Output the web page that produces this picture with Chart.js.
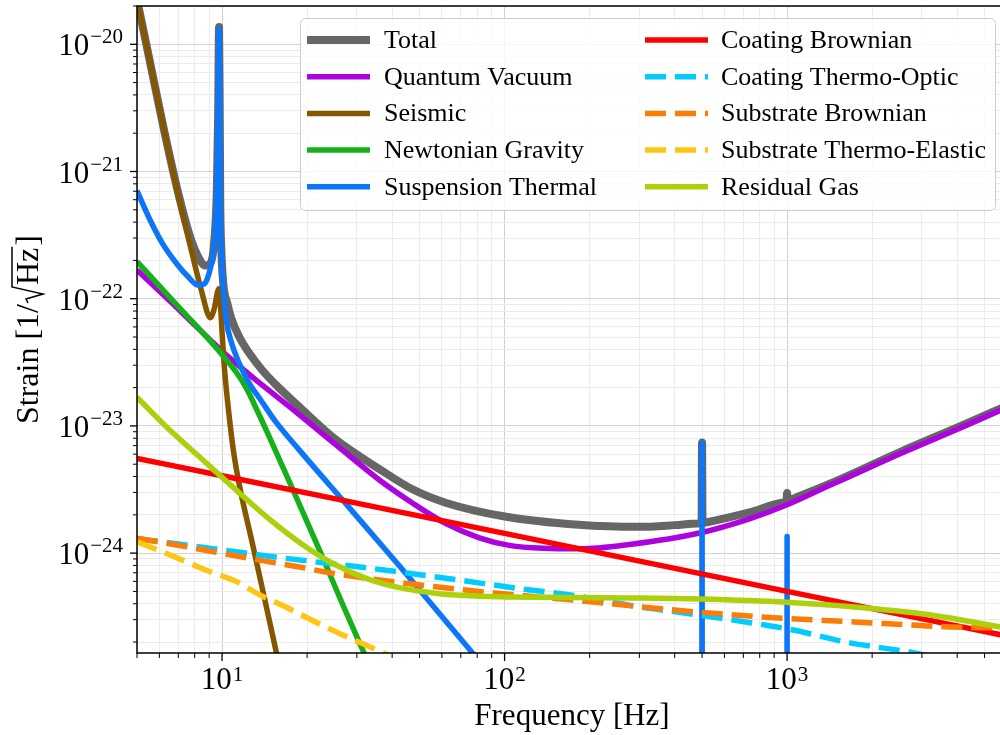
<!DOCTYPE html>
<html>
<head>
<meta charset="utf-8">
<title>Noise budget</title>
<script src="https://cdn.jsdelivr.net/npm/chart.js@4.4.0/dist/chart.umd.min.js"></script>
<style>
  html, body { margin: 0; padding: 0; background: #fff; }
  canvas { display: block; }
</style>
</head>
<body>
<canvas id="noiseChart" width="1000" height="735"></canvas>
<script>
// axis limits
const xMin = 5, xMax = 5670;
const yMin = 1.64e-25, yMax = 2.0e-20;

// tick marks and labels
const xMajorTicks = [10, 100, 1000];
const xTickExponents = ['1', '2', '3'];
const yMajorTicks = [1e-24, 1e-23, 1e-22, 1e-21, 1e-20];
const yTickExponents = ['\u221224', '\u221223', '\u221222', '\u221221', '\u221220'];

// noise curves: frequency [Hz] and strain [1/sqrt(Hz)]
const totalHz = [5, 5.53, 6.24, 7.06, 7.79, 8.45, 8.72, 9.09, 9.415, 9.585, 9.687, 9.759, 9.815, 9.854, 9.94, 10.11, 10.44, 10.79, 11.51, 12.49, 13.88, 15.95, 18.78, 25.37, 36.06, 47.02, 62.2, 100.2, 183, 300, 400, 484, 498, 500, 502, 520, 736, 980, 995, 1000, 1005, 1020, 1447, 2497, 4301, 6000];
const totalStrain = [2.25e-20, 7.67e-21, 2.09e-21, 6.24e-22, 2.86e-22, 1.93e-22, 1.82e-22, 1.89e-22, 3.08e-22, 7.2e-22, 2.79e-21, 1.37e-20, 2.79e-21, 6.0e-22, 2.48e-22, 1.29e-22, 9.2e-23, 7.0e-23, 5.0e-23, 3.72e-23, 2.74e-23, 1.98e-23, 1.41e-23, 7.75e-24, 4.58e-24, 3.19e-24, 2.48e-24, 1.94e-24, 1.67e-24, 1.61e-24, 1.66e-24, 1.71e-24, 1.72e-24, 7.4e-24, 1.73e-24, 1.75e-24, 2.09e-24, 2.5e-24, 2.54e-24, 2.97e-24, 2.56e-24, 2.6e-24, 3.58e-24, 6.2e-24, 1.04e-23, 1.44e-23];

const quantumHz = [5, 6.78, 9.02, 10.36, 13.89, 18.33, 25.39, 36.05, 47.17, 62.23, 81.43, 104, 138.3, 184, 276.6, 489.4, 735.6, 994.3, 1447, 2497, 4301, 6000];
const quantumStrain = [1.68e-22, 8.87e-23, 4.81e-23, 3.6e-23, 2.09e-23, 1.28e-23, 7.06e-24, 3.76e-24, 2.48e-24, 1.7e-24, 1.32e-24, 1.15e-24, 1.09e-24, 1.08e-24, 1.17e-24, 1.44e-24, 1.86e-24, 2.39e-24, 3.5e-24, 6.01e-24, 1.01e-23, 1.40e-23];

const seismicHz = [5, 5.53, 6.24, 7.06, 7.79, 8.45, 9.09, 9.39, 9.63, 9.74, 9.9, 10.02, 10.21, 10.61, 10.965, 11.51, 12.8, 14.12, 15.57, 17.17];
const seismicStrain = [2.25e-20, 7.67e-21, 2.09e-21, 5.9e-22, 2.39e-22, 1.16e-22, 7.1e-23, 8.4e-23, 1.12e-22, 1.2e-22, 8.1e-23, 5.1e-23, 2.74e-23, 1.17e-23, 6.45e-24, 3.44e-24, 1.2e-24, 4.46e-25, 1.65e-25, 6.1e-26];

const newtonianHz = [5, 6.78, 8.8, 10.36, 11.23, 12.19, 13.34, 14.71, 17.59, 22.11, 26.66, 31.89, 39.1];
const newtonianStrain = [1.96e-22, 9.35e-23, 5.03e-23, 3.31e-23, 2.64e-23, 1.98e-23, 1.31e-23, 8.17e-24, 3.37e-24, 1.06e-24, 4.0e-25, 1.62e-25, 5.8e-26];

const suspensionHz = [5, 5.53, 6.15, 6.89, 7.6, 8.22, 8.66, 8.98, 9.24, 9.415, 9.585, 9.687, 9.759, 9.815, 9.854, 9.94, 10.11, 10.35, 10.79, 11.51, 12.49, 13.78, 15.43, 18.78, 28.23, 42.4, 76.9, 112.8, 300, 499, 500, 501, 800, 999, 1000, 1001, 6000];
const suspensionStrain = [7.06e-22, 4.27e-22, 2.72e-22, 1.9e-22, 1.48e-22, 1.28e-22, 1.31e-22, 1.56e-22, 2.07e-22, 2.86e-22, 7.06e-22, 2.74e-21, 1.32e-20, 2.74e-21, 5.9e-22, 2.39e-22, 1.16e-22, 6.76e-23, 4.54e-23, 3.1e-23, 2.16e-23, 1.57e-23, 1.09e-23, 6.45e-24, 2.27e-24, 7.95e-25, 1.65e-25, 6.1e-26, 1e-26, 1e-26, 7.3e-24, 1e-26, 1e-26, 1e-26, 1.35e-24, 1e-26, 1e-26];

const coatBrownianHz = [5, 10, 100, 1000, 6000];
const coatBrownianStrain = [5.56e-24, 4.06e-24, 1.43e-24, 5.0e-25, 2.23e-25];

const coatThermoOpticHz = [5, 9.16, 14.9, 31.9, 40.7, 66.9, 110, 181, 296, 469, 815, 1040, 1670, 2170, 2800, 6000];
const coatThermoOpticStrain = [1.3e-24, 1.09e-24, 9.4e-25, 7.7e-25, 7.2e-25, 6.2e-25, 5.3e-25, 4.6e-25, 3.8e-25, 3.3e-25, 2.74e-25, 2.5e-25, 1.97e-25, 1.8e-25, 1.65e-25, 1.1e-25];

const subBrownianHz = [5, 6.89, 11.5, 18.8, 24.4, 39.7, 85.6, 180, 383, 815, 1720, 3800, 6000];
const subBrownianStrain = [1.31e-24, 1.16e-24, 9.4e-25, 7.77e-25, 6.97e-25, 5.98e-25, 4.94e-25, 4.25e-25, 3.6e-25, 3.15e-25, 2.88e-25, 2.63e-25, 2.58e-25];

const subThermoElasticHz = [5, 7, 8.7, 11.2, 13.6, 17.1, 21.6, 26.5, 33, 37, 45];
const subThermoElasticStrain = [1.23e-24, 9.1e-25, 7.4e-25, 6.0e-25, 4.7e-25, 3.7e-25, 2.85e-25, 2.29e-25, 1.85e-25, 1.65e-25, 1.36e-25];

const residualGasHz = [5, 6.53, 8.56, 11.23, 14.74, 19.35, 25.39, 33.31, 42.43, 58.77, 95.9, 144.1, 276.6, 489.4, 994.3, 1909, 3268, 6025];
const residualGasStrain = [1.68e-23, 9.27e-24, 5.39e-24, 3.13e-24, 1.84e-24, 1.16e-24, 8.02e-25, 6.18e-25, 5.35e-25, 4.8e-25, 4.54e-25, 4.5e-25, 4.44e-25, 4.35e-25, 4.11e-25, 3.7e-25, 3.25e-25, 2.57e-25];

const SERIF = '"Liberation Serif", "Times New Roman", serif';
const DASH = [21, 9];

function toPoints(hz, strain) {
  return hz.map((f, i) => ({ x: f, y: strain[i] }));
}

function minorTicks(min, max) {
  const out = [];
  for (let e = Math.floor(Math.log10(min)); e <= Math.ceil(Math.log10(max)); e++) {
    for (let m = 2; m <= 9; m++) {
      const v = m * Math.pow(10, e);
      if (v >= min && v <= max) out.push(v);
    }
  }
  return out;
}

const xMinorTicks = minorTicks(xMin, xMax);
const yMinorTicks = minorTicks(yMin, yMax);

function curve(label, hz, strain, color, opts = {}) {
  return Object.assign({
    label: label,
    data: toPoints(hz, strain),
    borderColor: color,
    backgroundColor: color,
    borderWidth: 5.5,
    borderDash: [],
    fill: false,
    clip: 0
  }, opts);
}

const dashed = { borderDash: DASH, borderCapStyle: 'butt' };

const datasets = [
  curve('Total', totalHz, totalStrain, '#666666', { borderWidth: 8 }),
  curve('Quantum Vacuum', quantumHz, quantumStrain, '#ad03de'),
  curve('Seismic', seismicHz, seismicStrain, '#855700'),
  curve('Newtonian Gravity', newtonianHz, newtonianStrain, '#15b01a'),
  curve('Suspension Thermal', suspensionHz, suspensionStrain, '#0d75f8'),
  curve('Coating Brownian', coatBrownianHz, coatBrownianStrain, '#fe0002'),
  curve('Coating Thermo-Optic', coatThermoOpticHz, coatThermoOpticStrain, '#02ccfe', dashed),
  curve('Substrate Brownian', subBrownianHz, subBrownianStrain, '#fb7d07', dashed),
  curve('Substrate Thermo-Elastic', subThermoElasticHz, subThermoElasticStrain, '#ffc512', dashed),
  curve('Residual Gas', residualGasHz, residualGasStrain, '#add00d')
];
// later curves sit on top, the total underneath everything
datasets.forEach((ds, i) => { ds.order = datasets.length - i; });

function setTicks(scale, majors, minors) {
  const all = majors.concat(minors).sort((a, b) => a - b);
  scale.ticks = all.map(v => ({ value: v, major: majors.includes(v) }));
}

function gridColor(ctx) {
  return ctx.tick && ctx.tick.major ? '#d2d2d2' : '#ebebeb';
}

// spines, tick marks, tick labels and axis titles
const axesDecor = {
  id: 'axesDecor',
  afterDraw(chart) {
    const { ctx, chartArea: a, scales: { x, y } } = chart;
    ctx.save();
    ctx.strokeStyle = '#000';
    ctx.lineWidth = 1.5;
    ctx.strokeRect(a.left, a.top, a.right - a.left + 10, a.bottom - a.top);

    const tick = (x0, y0, x1, y1, w) => {
      ctx.lineWidth = w;
      ctx.beginPath();
      ctx.moveTo(x0, y0);
      ctx.lineTo(x1, y1);
      ctx.stroke();
    };
    xMinorTicks.forEach(v => { const p = x.getPixelForValue(v); tick(p, a.bottom, p, a.bottom + 5, 1); });
    xMajorTicks.forEach(v => { const p = x.getPixelForValue(v); tick(p, a.bottom, p, a.bottom + 8, 1.3); });
    yMinorTicks.forEach(v => { const p = y.getPixelForValue(v); tick(a.left, p, a.left - 4, p, 1); });
    yMajorTicks.forEach(v => { const p = y.getPixelForValue(v); tick(a.left, p, a.left - 7, p, 1.3); });

    ctx.fillStyle = '#000';
    ctx.textAlign = 'left';
    ctx.textBaseline = 'alphabetic';
    const baseFont = `31px ${SERIF}`;
    const expFont = `21px ${SERIF}`;

    xMajorTicks.forEach((v, i) => {
      const p = x.getPixelForValue(v);
      ctx.font = baseFont;
      const wb = ctx.measureText('10').width;
      ctx.font = expFont;
      const we = ctx.measureText(xTickExponents[i]).width;
      const start = p - (wb + we + 1) / 2;
      ctx.font = baseFont;
      ctx.fillText('10', start, a.bottom + 36);
      ctx.font = expFont;
      ctx.fillText(xTickExponents[i], start + wb + 1, a.bottom + 28);
    });

    yMajorTicks.forEach((v, i) => {
      const p = y.getPixelForValue(v);
      ctx.font = expFont;
      const we = ctx.measureText(yTickExponents[i]).width;
      ctx.font = baseFont;
      const wb = ctx.measureText('10').width;
      const right = a.left - 14;
      ctx.fillText('10', right - we - wb - 1, p + 11);
      ctx.font = expFont;
      ctx.fillText(yTickExponents[i], right - we, p - 1);
    });

    // x title, centred on the full axis (its right end runs past the canvas)
    ctx.font = `31px ${SERIF}`;
    ctx.textAlign = 'center';
    ctx.fillText('Frequency [Hz]', 572, 725);

    // y title, with a drawn radical over Hz
    ctx.font = `32px ${SERIF}`;
    ctx.translate(38, (a.top + a.bottom) / 2);
    ctx.rotate(-Math.PI / 2);
    ctx.textAlign = 'left';
    const head = 'Strain [1/', unit = 'Hz', tail = ']';
    const wHead = ctx.measureText(head).width;
    const wUnit = ctx.measureText(unit).width;
    const wTail = ctx.measureText(tail).width;
    const wRad = 18;
    let cx = -(wHead + wRad + wUnit + wTail + 3) / 2;
    ctx.fillText(head, cx, 0);
    cx += wHead + 1;
    ctx.lineWidth = 1.5;
    ctx.lineJoin = 'miter';
    ctx.beginPath();
    ctx.moveTo(cx, -10);
    ctx.lineTo(cx + 4, -12);
    ctx.lineTo(cx + 9, 5);
    ctx.lineTo(cx + 16, -26);
    ctx.lineTo(cx + wRad + wUnit + 1, -26);
    ctx.stroke();
    cx += wRad;
    ctx.fillText(unit, cx, 0);
    cx += wUnit + 2;
    ctx.fillText(tail, cx, 0);
    ctx.restore();
  }
};

// two-column legend box in the upper right
const legendBox = {
  id: 'legendBox',
  afterDraw(chart) {
    const { ctx } = chart;
    const box = { x: 300.5, y: 18.5, w: 695, h: 192, r: 5 };
    const columns = [
      { line: 307, text: 384, items: [0, 1, 2, 3, 4] },
      { line: 645, text: 721, items: [5, 6, 7, 8, 9] }
    ];
    const rowTop = 40, rowGap = 36.7, handle = 63;
    ctx.save();
    ctx.beginPath();
    ctx.roundRect(box.x, box.y, box.w, box.h, box.r);
    ctx.fillStyle = 'rgba(255,255,255,0.8)';
    ctx.fill();
    ctx.strokeStyle = '#cccccc';
    ctx.lineWidth = 1;
    ctx.stroke();
    ctx.font = `26px ${SERIF}`;
    ctx.textBaseline = 'middle';
    ctx.textAlign = 'left';
    columns.forEach(col => {
      col.items.forEach((idx, row) => {
        const ds = chart.data.datasets[idx];
        const yy = rowTop + row * rowGap;
        ctx.strokeStyle = ds.borderColor;
        ctx.lineWidth = ds.borderWidth;
        ctx.lineCap = 'butt';
        ctx.setLineDash(ds.borderDash || []);
        ctx.beginPath();
        ctx.moveTo(col.line, yy);
        ctx.lineTo(col.line + handle, yy);
        ctx.stroke();
        ctx.setLineDash([]);
        ctx.fillStyle = '#000';
        ctx.fillText(ds.label, col.text, yy + 1);
      });
    });
    ctx.restore();
  }
};

new Chart(document.getElementById('noiseChart'), {
  type: 'line',
  data: { datasets: datasets },
  plugins: [axesDecor, legendBox],
  options: {
    responsive: false,
    animation: false,
    devicePixelRatio: 1,
    layout: { padding: { left: 137, right: 0, top: 6, bottom: 82 } },
    plugins: { legend: { display: false }, tooltip: { enabled: false } },
    elements: {
      point: { radius: 0 },
      line: { borderJoinStyle: 'round', cubicInterpolationMode: 'monotone' }
    },
    scales: {
      x: {
        type: 'logarithmic',
        min: xMin,
        max: xMax,
        bounds: 'data',
        ticks: { display: false, autoSkip: false },
        grid: { color: gridColor, lineWidth: 1, drawTicks: false },
        border: { display: false },
        afterBuildTicks: s => setTicks(s, xMajorTicks, xMinorTicks),
        afterFit: s => { s.height = 0; }
      },
      y: {
        type: 'logarithmic',
        min: yMin,
        max: yMax,
        bounds: 'data',
        ticks: { display: false, autoSkip: false },
        grid: { color: gridColor, lineWidth: 1, drawTicks: false },
        border: { display: false },
        afterBuildTicks: s => setTicks(s, yMajorTicks, yMinorTicks),
        afterFit: s => { s.width = 0; }
      }
    }
  }
});
</script>
</body>
</html>
